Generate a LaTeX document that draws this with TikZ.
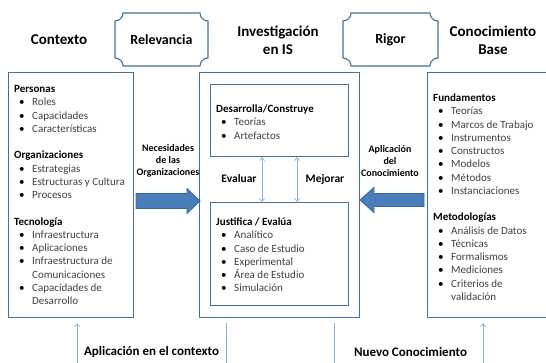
\documentclass[tikz,border=0pt]{standalone}
\usepackage{fontspec}
\setmainfont{Carlito}
\usetikzlibrary{arrows.meta}
\definecolor{boxblue}{HTML}{41719C}
\definecolor{arrowfill}{HTML}{4A7EBB}
\definecolor{arrowedge}{HTML}{3A679A}
\definecolor{thinblue}{HTML}{8EB1DC}
\definecolor{itemgray}{HTML}{404040}
\newcommand{\lhead}[1]{\strut\textbf{#1}}
\newcommand{\lbul}[1]{\strut\hspace*{5pt}\makebox[13pt][l]{\textbullet}{\color{itemgray}#1}}
\newcommand{\lcont}[1]{\strut\hspace*{18pt}{\color{itemgray}#1}}
\newcommand{\plaquepath}[4]{%
  \draw[boxline] (#1+8,#2) -- (#3-8,#2)
    .. controls (#3-8,#2+4.4) and (#3-4.4,#2+8) .. (#3,#2+8)
    -- (#3,#4-8)
    .. controls (#3-4.4,#4-8) and (#3-8,#4-4.4) .. (#3-8,#4)
    -- (#1+8,#4)
    .. controls (#1+8,#4-4.4) and (#1+4.4,#4-8) .. (#1,#4-8)
    -- (#1,#2+8)
    .. controls (#1+4.4,#2+8) and (#1+8,#2+4.4) .. cycle;}
\tikzset{
  boxline/.style={draw=boxblue, line width=1.1pt},
  bigbox/.style={boxline, rectangle, inner sep=0pt, anchor=north west},
  listtext/.style={anchor=north west, inner sep=0pt, align=left, font=\fontsize{11}{13.25}\selectfont},
  titletext/.style={font=\fontsize{15}{18}\selectfont\bfseries, align=center, inner sep=0pt},
  plaquetext/.style={font=\fontsize{14}{17}\selectfont\bfseries, inner sep=0pt},
  arrowlabel/.style={font=\fontsize{10}{12}\selectfont\bfseries, align=center, inner sep=0pt},
  midlabel/.style={font=\fontsize{11.5}{14}\selectfont\bfseries, inner sep=0pt},
  bottomlabel/.style={font=\fontsize{13}{16}\selectfont\bfseries, inner sep=0pt},
  blockarrow/.style={fill=arrowfill, draw=arrowedge, line width=0.8pt, line join=miter},
  thinarrow/.style={draw=thinblue, line width=0.7pt, {Straight Barb[length=3pt,width=5pt]}-{Straight Barb[length=3pt,width=5pt]}},
  upline/.style={draw=thinblue, line width=0.8pt},
  uparrow/.style={upline, -{Straight Barb[length=3pt,width=5pt]}}
}
\begin{document}
\begin{tikzpicture}[x=1pt,y=-1pt]
\useasboundingbox (0,0) rectangle (546,362);
\clip (0,0) rectangle (546,362);

% titles
\node[titletext] (tctx) at (59,40) {Contexto};
\node[titletext] (tinv) at (278,40) {Investigación\\en IS};
\node[titletext] (tkb) at (493,40) {Conocimiento\\Base};

% plaques
\plaquepath{115}{13}{208}{66}
\node[plaquetext] (rel) at (161.5,40) {Relevancia};
\plaquepath{343}{13}{438}{66}
\node[plaquetext] (rig) at (390.5,40) {Rigor};

% main boxes
\node[bigbox, minimum width=125pt, minimum height=245pt] (ctx) at (8,72) {};
\node[bigbox, minimum width=160pt, minimum height=245pt] (inv) at (199,72) {};
\node[bigbox, minimum width=138pt, minimum height=72pt] (dev) at (210,84) {};
\node[bigbox, minimum width=138pt, minimum height=103pt] (jus) at (210,202) {};
\node[bigbox, minimum width=140pt, minimum height=245pt] (kb) at (427,72) {};

% lists
\node[listtext] (ctxlist) at (14,83.2) {%
\lhead{Personas}\\
\lbul{Roles}\\
\lbul{Capacidades}\\
\lbul{Características}\\
\strut\\
\lhead{Organizaciones}\\
\lbul{Estrategias}\\
\lbul{Estructuras y Cultura}\\
\lbul{Procesos}\\
\strut\\
\lhead{Tecnología}\\
\lbul{Infraestructura}\\
\lbul{Aplicaciones}\\
\lbul{Infraestructura de}\\
\lcont{Comunicaciones}\\
\lbul{Capacidades de}\\
\lcont{Desarrollo}};

\node[listtext] (devlist) at (216,103.2) {%
\lhead{Desarrolla/Construye}\\
\lbul{Teorías}\\
\lbul{Artefactos}};

\node[listtext] (juslist) at (216,216.2) {%
\lhead{Justifica / Evalúa}\\
\lbul{Analítico}\\
\lbul{Caso de Estudio}\\
\lbul{Experimental}\\
\lbul{Área de Estudio}\\
\lbul{Simulación}};

\node[listtext] (kblist) at (433,92.2) {%
\lhead{Fundamentos}\\
\lbul{Teorías}\\
\lbul{Marcos de Trabajo}\\
\lbul{Instrumentos}\\
\lbul{Constructos}\\
\lbul{Modelos}\\
\lbul{Métodos}\\
\lbul{Instanciaciones}\\
\strut\\
\lhead{Metodologías}\\
\lbul{Análisis de Datos}\\
\lbul{Técnicas}\\
\lbul{Formalismos}\\
\lbul{Mediciones}\\
\lbul{Criterios de}\\
\lcont{validación}};

% block arrows
\draw[blockarrow] (136,193.5) -- (187,193.5) -- (187,188.5) -- (200,201) -- (187,213.5) -- (187,208.5) -- (136,208.5) -- cycle;
\draw[blockarrow] (424,193.5) -- (374,193.5) -- (374,187.5) -- (360,200) -- (374,212.5) -- (374,206.5) -- (424,206.5) -- cycle;

\node[arrowlabel] (nec) at (168,161) {Necesidades\\de las\\Organizaciones};
\node[arrowlabel] (apc) at (390,161) {Aplicación\\del\\Conocimiento};

% evaluate / improve arrows
\coordinate (ev) at (262,0);
\coordinate (me) at (297,0);
\draw[thinarrow] (dev.south -| ev) -- (jus.north -| ev);
\draw[thinarrow] (dev.south -| me) -- (jus.north -| me);
\node[midlabel] (evl) at (239,179) {Evaluar};
\node[midlabel] (mel) at (325,179) {Mejorar};

% bottom connectors
\coordinate (b1) at (77,365);
\coordinate (b2) at (226,365);
\coordinate (b3) at (334,365);
\coordinate (b4) at (483,365);
\draw[uparrow, shorten >=5pt] (b1) -- (ctx.south -| b1);
\draw[upline, shorten <=5pt] (inv.south -| b2) -- (b2);
\draw[upline, shorten <=5pt] (inv.south -| b3) -- (b3);
\draw[uparrow, shorten >=5pt] (b4) -- (kb.south -| b4);

\node[bottomlabel] (apctx) at (151.5,352) {Aplicación en el contexto};
\node[bottomlabel] (nuevo) at (410.5,352) {Nuevo Conocimiento};
\end{tikzpicture}
\end{document}
